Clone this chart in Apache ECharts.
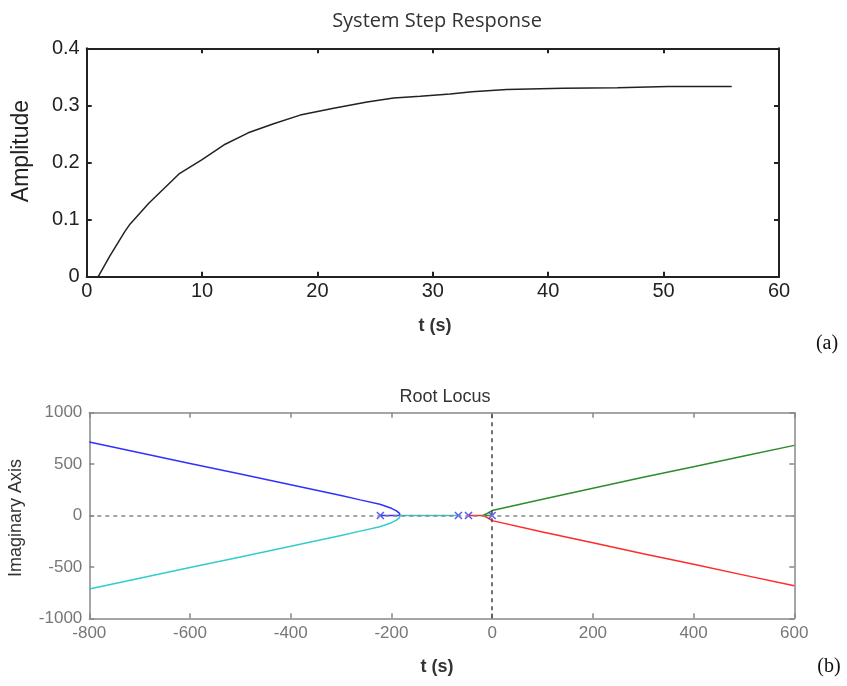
<!DOCTYPE html>
<html>
<head>
<meta charset="utf-8">
<script src="https://cdn.jsdelivr.net/npm/echarts@6/dist/echarts.min.js"></script>
<style>
html,body{margin:0;padding:0;background:#fff;}
#c{width:847px;height:686px;}
</style>
</head>
<body>
<div id="c"></div>
<script>
// ---- (a) step response ----
const stepT = [1.0, 2.0, 3.3, 3.75, 5.4, 8.0, 10.0, 12.0, 14.0, 16.2, 18.5, 21.4, 24.3, 26.6, 28.9, 31.5, 33.4, 36.4, 41.3, 46.0, 50.4, 55.9];
const stepA = [0, 0.036, 0.079, 0.092, 0.129, 0.180, 0.205, 0.232, 0.252, 0.268, 0.283, 0.295, 0.306, 0.313, 0.316, 0.320, 0.324, 0.328, 0.330, 0.331, 0.333, 0.333];
const stepXTicks = [0, 60, 10];      // min, max, interval
const stepYTicks = [0, 0.4, 0.1];

// ---- (b) root locus ----
const blueRe  = [-222, -183, -184, -190, -200, -223, -262, -300, -400, -500, -600, -700, -800];
const blueIm  = [0, 0, 20, 45, 70, 110, 152, 195, 300, 403, 506, 610, 715];
const cyanRe  = [-67, -183, -184, -190, -200, -223, -262, -300, -400, -500, -600, -700, -800];
const cyanIm  = [0, 0, -20, -45, -70, -110, -152, -195, -300, -403, -506, -610, -715];
const greenRe = [0, -18, -8, 0, 100, 200, 300, 400, 500, 600];
const greenIm = [0, 0, 25, 48, 158, 266, 372, 474, 578, 682];
const redRe   = [-47, -18, -8, 0, 100, 200, 300, 400, 500, 600];
const redIm   = [0, 0, -25, -50, -160, -266, -372, -475, -580, -684];
const poleRe  = [-222, -67, -47, 0];
const poleIm  = [0, 0, 0, 0];
const rlXTicks = [-800, 600, 200];
const rlYTicks = [-1000, 1000, 500];

const zip = (a, b) => a.map((v, i) => [v, b[i]]);

const chart = echarts.init(document.getElementById('c'), null, {renderer: 'canvas'});

const F = 'Liberation Sans, Arial, sans-serif';
const crossPath = 'path://M0,0L10,10M10,0L0,10';

function axisPair(grid, ticks, color, lw, labelColor, fontSize, margin, showLabel, pos) {
  return {
    type: 'value', gridIndex: grid, position: pos,
    min: ticks[0], max: ticks[1], interval: ticks[2],
    axisLine: {show: true, onZero: false, lineStyle: {color: color, width: lw}},
    axisTick: {show: true, inside: true, length: 5, lineStyle: {color: color, width: lw}},
    axisLabel: {show: showLabel, color: labelColor, fontFamily: F, fontSize: fontSize, margin: margin,
                formatter: v => String(v)},
    splitLine: {show: false}
  };
}

const option = {
  animation: false,
  backgroundColor: '#ffffff',
  title: [
    {text: 'System Step Response', left: 432, top: 6, textAlign: 'center',
     textStyle: {fontFamily: 'Open Sans, Noto Sans, sans-serif', fontSize: 20, fontWeight: 'normal', color: '#333'}},
    {text: 'Root Locus', left: 440, top: 383, textAlign: 'center',
     textStyle: {fontFamily: F, fontSize: 18, fontWeight: 'normal', color: '#333'}}
  ],
  grid: [
    {left: 86.7, top: 48.3, width: 692.3, height: 228.4, show: false},
    {left: 89.3, top: 412.7, width: 705, height: 205.6, show: false}
  ],
  xAxis: [
    axisPair(0, stepXTicks, '#222', 2, '#222', 20, 5, true, 'bottom'),
    axisPair(0, stepXTicks, '#222', 2, '#222', 20, 5, false, 'top'),
    axisPair(1, rlXTicks, '#888', 1.5, '#777', 17, 7, true, 'bottom'),
    axisPair(1, rlXTicks, '#888', 1.5, '#777', 17, 7, false, 'top')
  ],
  yAxis: [
    axisPair(0, stepYTicks, '#222', 2, '#222', 20, 7, true, 'left'),
    axisPair(0, stepYTicks, '#222', 2, '#222', 20, 7, false, 'right'),
    axisPair(1, rlYTicks, '#888', 1.5, '#777', 17, 7, true, 'left'),
    axisPair(1, rlYTicks, '#888', 1.5, '#777', 17, 7, false, 'right')
  ],
  graphic: [
    {type: 'text', x: 22, y: 151, rotation: Math.PI / 2,
     style: {text: 'Amplitude', font: '23px ' + F, fill: '#222', textAlign: 'center', textVerticalAlign: 'middle'}},
    {type: 'text', x: 435, y: 326,
     style: {text: 't (s)', font: 'bold 18px ' + F, fill: '#333', textAlign: 'center', textVerticalAlign: 'middle'}},
    {type: 'text', x: 16, y: 518, rotation: Math.PI / 2,
     style: {text: 'Imaginary Axis', font: '18px ' + F, fill: '#333', textAlign: 'center', textVerticalAlign: 'middle'}},
    {type: 'text', x: 437, y: 667,
     style: {text: 't (s)', font: 'bold 18px ' + F, fill: '#333', textAlign: 'center', textVerticalAlign: 'middle'}},
    {type: 'text', x: 827, y: 344,
     style: {text: '(a)', font: '20px Liberation Serif, DejaVu Serif, serif', fill: '#111', textAlign: 'center', textVerticalAlign: 'middle'}},
    {type: 'text', x: 829, y: 667,
     style: {text: '(b)', font: '20px Liberation Serif, DejaVu Serif, serif', fill: '#111', textAlign: 'center', textVerticalAlign: 'middle'}}
  ],
  series: [
    {type: 'line', xAxisIndex: 0, yAxisIndex: 0, data: zip(stepT, stepA), showSymbol: false,
     lineStyle: {color: '#222', width: 1.5}, z: 3},
    {type: 'line', xAxisIndex: 2, yAxisIndex: 2, data: [], showSymbol: false,
     markLine: {silent: true, symbol: 'none', label: {show: false},
       data: [
         {yAxis: 0, lineStyle: {color: '#888', type: [4, 4], width: 1.5}},
         {xAxis: 0, lineStyle: {color: '#444', type: [4, 4], width: 1.5}}
       ]}, z: 1},
    {type: 'line', xAxisIndex: 2, yAxisIndex: 2, data: zip(blueRe, blueIm), showSymbol: false,
     lineStyle: {color: '#3030ff', width: 1.5}, z: 3},
    {type: 'line', xAxisIndex: 2, yAxisIndex: 2, data: zip(cyanRe, cyanIm), showSymbol: false,
     lineStyle: {color: '#33cccc', width: 1.5}, z: 3},
    {type: 'line', xAxisIndex: 2, yAxisIndex: 2, data: zip(greenRe, greenIm), showSymbol: false,
     lineStyle: {color: '#2e8b2e', width: 1.5}, z: 3},
    {type: 'line', xAxisIndex: 2, yAxisIndex: 2, data: zip(redRe, redIm), showSymbol: false,
     lineStyle: {color: '#ff2a2a', width: 1.5}, z: 3},
    {type: 'scatter', xAxisIndex: 2, yAxisIndex: 2, data: zip(poleRe, poleIm),
     symbol: crossPath, symbolSize: 7,
     itemStyle: {color: 'none', borderColor: '#3030ff', borderWidth: 1.5}, z: 4}
  ]
};
chart.setOption(option);
</script>
</body>
</html>
